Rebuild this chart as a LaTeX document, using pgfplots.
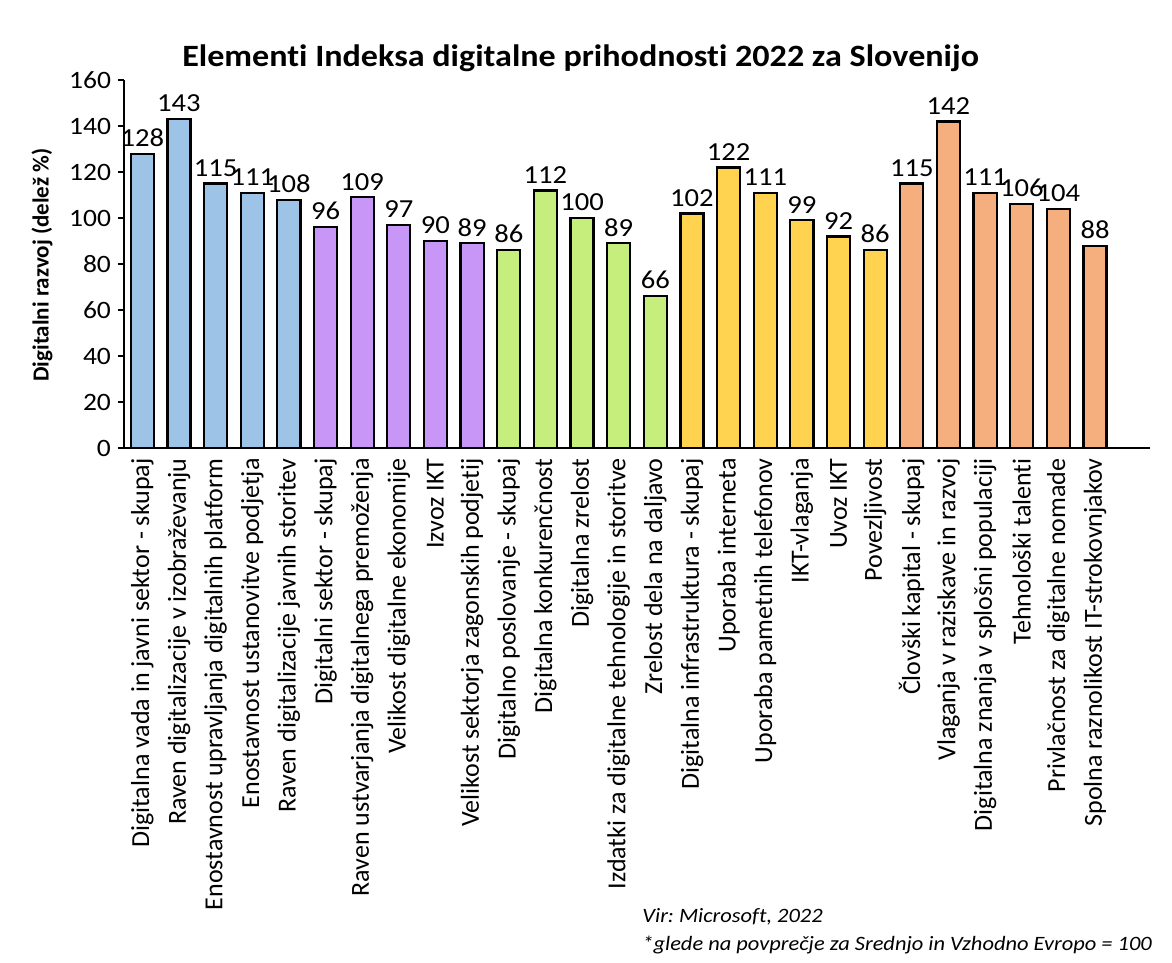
\documentclass[border=0pt]{standalone}
\usepackage{pgfplots}
\pgfplotsset{compat=1.18}
\usepackage{fontspec}
\setmainfont{Carlito}[FakeStretch=1.1, Ligatures=CommonOff]
\newfontfamily\labfont{Carlito}[Ligatures=CommonOff]
\frenchspacing
\definecolor{cblue}{HTML}{9DC3E6}
\definecolor{cpurple}{HTML}{C896F7}
\definecolor{cgreen}{HTML}{C5EE7D}
\definecolor{cyellow}{HTML}{FFD350}
\definecolor{corange}{HTML}{F5AE7E}
\begin{document}
\begin{tikzpicture}
\useasboundingbox (-62pt,-257.5pt) rectangle (524pt,224pt);
\begin{axis}[
  at={(0,0)}, anchor=south west,
  scale only axis, width=513pt, height=184pt,
  ymin=0, ymax=160, ytick={0,20,...,160},
  xmin=-0.5, xmax=27.5,
  axis x line*=bottom, axis y line*=left,
  axis line style={-, line width=1pt},
  tick align=outside,
  major tick length=3pt, minor tick length=3pt,
  every tick/.style={black, line width=0.9pt},
  xtick={0,...,27},
  x tick style={draw=none},
  minor xtick={-0.5,0.5,...,27.5},
  xticklabels={
    Digitalna vada in javni sektor - skupaj,
    Raven digitalizacije v izobraževanju,
    Enostavnost upravljanja digitalnih platform,
    Enostavnost ustanovitve podjetja,
    Raven digitalizacije javnih storitev,
    Digitalni sektor - skupaj,
    Raven ustvarjanja digitalnega premoženja,
    Velikost digitalne ekonomije,
    Izvoz IKT,
    Velikost sektorja zagonskih podjetij,
    Digitalno poslovanje - skupaj,
    Digitalna konkurenčnost,
    Digitalna zrelost,
    Izdatki za digitalne tehnologije in storitve,
    Zrelost dela na daljavo,
    Digitalna infrastruktura - skupaj,
    Uporaba interneta,
    Uporaba pametnih telefonov,
    IKT-vlaganja,
    Uvoz IKT,
    Povezljivost,
    Človški kapital - skupaj,
    Vlaganja v raziskave in razvoj,
    Digitalna znanja v splošni populaciji,
    Tehnološki talenti,
    Privlačnost za digitalne nomade,
    Spolna raznolikost IT-strokovnjakov},
  xticklabel style={rotate=90, anchor=east, font=\labfont\fontsize{13pt}{15pt}\selectfont, inner sep=2pt},
  yticklabel style={font=\fontsize{12.5pt}{14pt}\selectfont},
  /pgf/number format/assume math mode=true,
  ylabel={Digitalni razvoj (delež \%)},
  ylabel style={at={(axis description cs:-0.08,0.497)}, anchor=center, font=\labfont\bfseries\fontsize{11.5pt}{13pt}\selectfont},
  title={Elementi Indeksa digitalne prihodnosti 2022 za Slovenijo},
  title style={at={(axis description cs:0.445,1.005)}, anchor=base, font=\bfseries\fontsize{15.5pt}{18pt}\selectfont},
  ybar, bar width=0.63,
  nodes near coords,
  every node near coord/.append style={font=\fontsize{13pt}{15pt}\selectfont, black, inner sep=3pt},
  clip=false,
]
\addplot[bar shift=0pt, fill=cblue, draw=black, line width=1.1pt] coordinates {(0,128) (1,143) (2,115) (3,111) (4,108)};
\addplot[bar shift=0pt, fill=cpurple, draw=black, line width=1.1pt] coordinates {(5,96) (6,109) (7,97) (8,90) (9,89)};
\addplot[bar shift=0pt, fill=cgreen, draw=black, line width=1.1pt] coordinates {(10,86) (11,112) (12,100) (13,89) (14,66)};
\addplot[bar shift=0pt, fill=cyellow, draw=black, line width=1.1pt] coordinates {(15,102) (16,122) (17,111) (18,99) (19,92) (20,86)};
\addplot[bar shift=0pt, fill=corange, draw=black, line width=1.1pt] coordinates {(21,115) (22,142) (23,111) (24,106) (25,104) (26,88)};
\end{axis}
\node[anchor=north west, align=left, font=\itshape\fontsize{10.2pt}{13.8pt}\selectfont, inner sep=0pt] at (259pt,-230pt)
  {Vir: Microsoft, 2022\\*glede na povprečje za Srednjo in Vzhodno Evropo = 100};
\end{tikzpicture}
\end{document}
